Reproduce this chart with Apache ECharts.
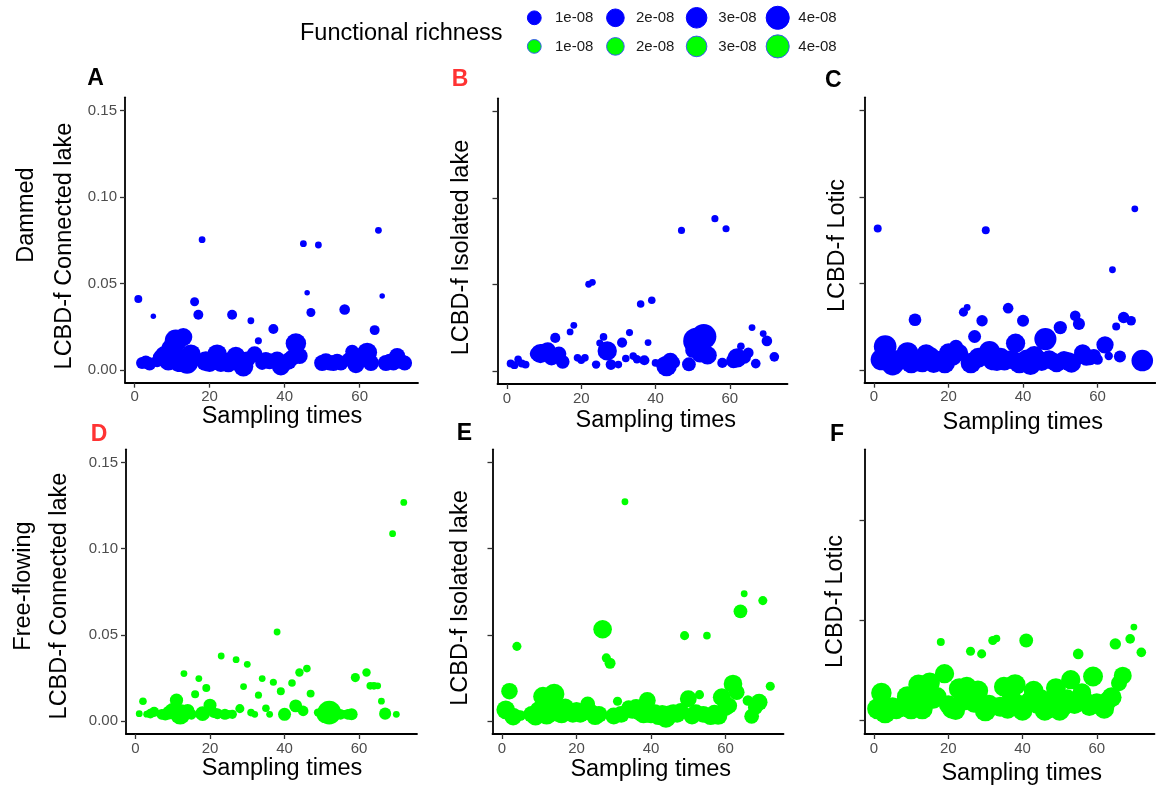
<!DOCTYPE html>
<html>
<head>
<meta charset="utf-8">
<script src="https://cdn.jsdelivr.net/npm/echarts@6/dist/echarts.min.js"></script>
<style>
  html, body { margin: 0; padding: 0; background: #ffffff; }
  #chart { width: 1156px; height: 791px; }
</style>
</head>
<body>
<div id="chart"></div>
<script>
// ---- tick labels ----
const xTicks = [0, 20, 40, 60];
const yTicks = [0, 0.05, 0.10, 0.15];
const yTicksLotic = [0, 0.05, 0.10];

// ---- legend: functional richness (units of 1e-08) ----
const legendValues = [1, 2, 3, 4];
const legendLabels = ['1e-08', '2e-08', '3e-08', '4e-08'];

// ---- data rows: [sampling time, LCBD-f, functional richness (x1e-08)] ----
const dammedConnected = [
  [1,0.041,0.07],[2,0.004,0.5],[3,0.0045,0.7],[4,0.0035,0.7],[5,0.031,0.0],[6,0.005,0.5],
  [7,0.007,1.3],[8,0.008,2.4],[9,0.005,2.0],[10,0.012,3.0],[11,0.017,3.2],[12,0.005,3.0],
  [13,0.019,1.8],[14,0.004,3.0],[15,0.009,2.4],[16,0.0394,0.14],[17,0.0319,0.23],[18,0.0753,0.02],
  [19,0.005,2.4],[20,0.004,1.8],[21,0.006,1.5],[22,0.009,2.4],[23,0.004,1.8],[24,0.005,1.5],
  [25,0.004,2.0],[26,0.0319,0.23],[27,0.008,2.0],[28,0.005,1.8],[29,0.002,2.4],[30,0.006,1.3],
  [31,0.0284,0.02],[32,0.009,1.3],[33,0.0168,0.03],[34,0.004,0.8],[35,0.006,1.0],[36,0.005,1.3],
  [37,0.0237,0.23],[38,0.006,1.3],[39,0.002,1.8],[40,0.004,1.3],[41,0.005,1.5],[42,0.007,1.3],
  [43,0.0153,2.6],[44,0.008,1.3],[45,0.073,0.02],[46,0.0446,0.0],[47,0.0332,0.14],[49,0.0722,0.02],
  [50,0.004,1.3],[51,0.005,1.3],[52,0.004,1.0],[53,0.004,1.3],[54,0.005,1.0],[55,0.004,1.0],
  [56,0.0349,0.3],[57,0.006,0.8],[58,0.0106,0.8],[59,0.003,1.5],[60,0.007,1.5],[61,0.008,1.8],
  [62,0.010,2.4],[63,0.004,1.3],[64,0.023,0.23],[65,0.0807,0.02],[66,0.0427,0.0],[67,0.004,1.3],
  [68,0.005,1.0],[69,0.004,1.0],[70,0.008,1.3],[71,0.005,1.0],[72,0.004,1.0]
];
const dammedIsolated = [
  [1,0.0044,0.07],[2,0.0035,0.07],[3,0.0069,0.05],[4,0.0044,0.07],[5,0.0038,0.07],
  [8,0.010,0.8],[9,0.0102,2.2],[10,0.011,1.6],[11,0.012,1.3],[12,0.008,1.3],[13,0.0192,0.25],
  [14,0.010,1.0],[15,0.0054,0.8],[17,0.0227,0.02],[18,0.0265,0.02],[19,0.0077,0.05],[20,0.0063,0.05],
  [21,0.0077,0.05],[22,0.0502,0.02],[23,0.0513,0.02],[24,0.0038,0.1],[25,0.0163,0.03],[26,0.0198,0.05],
  [27,0.0117,2.2],[28,0.0038,0.3],[30,0.0038,0.05],[31,0.0165,0.25],[32,0.0073,0.05],[33,0.0223,0.03],
  [34,0.0087,0.05],[35,0.0069,0.1],[36,0.0388,0.05],[37,0.0063,0.25],[38,0.0165,0.02],[39,0.041,0.05],
  [40,0.0048,0.05],[42,0.004,0.8],[43,0.003,2.6],[44,0.006,1.3],[45,0.005,0.5],[47,0.0813,0.03],
  [49,0.004,0.8],[50,0.012,1.0],[51,0.0175,5.0],[52,0.010,1.6],[53,0.020,4.5],[54,0.0092,2.0],
  [56,0.0881,0.03],[58,0.0048,0.25],[59,0.0823,0.03],[61,0.006,1.0],[62,0.0077,2.2],[63,0.0144,0.05],
  [64,0.008,0.6],[65,0.0106,0.3],[66,0.0252,0.02],[67,0.0044,0.2],[69,0.0217,0.02],[70,0.0175,0.3],
  [72,0.0083,0.2]
];
const dammedLotic = [
  [1,0.0817,0.07],[2,0.006,3.0],[3,0.0135,3.4],[4,0.005,2.6],[5,0.003,3.0],[6,0.006,2.0],[7,0.005,1.6],
  [8,0.007,2.2],[9,0.0098,3.0],[10,0.004,2.6],[11,0.029,0.6],[12,0.005,2.6],[13,0.004,2.0],[14,0.0093,2.2],
  [15,0.007,3.0],[16,0.004,2.4],[17,0.005,2.0],[18,0.006,1.8],[19,0.004,2.6],[20,0.0098,2.2],[21,0.008,2.4],
  [22,0.0134,0.85],[23,0.010,1.5],[24,0.0334,0.15],[25,0.0361,0.02],[26,0.004,2.6],[27,0.0193,0.65],
  [28,0.007,2.4],[29,0.0284,0.4],[30,0.0807,0.07],[31,0.0104,3.0],[32,0.006,3.0],[33,0.005,2.2],
  [34,0.007,2.4],[35,0.005,2.0],[36,0.0357,0.3],[37,0.006,2.2],[38,0.0154,2.2],[39,0.004,2.6],
  [40,0.0284,0.5],[41,0.006,2.4],[42,0.003,2.6],[43,0.008,2.4],[44,0.006,2.0],[45,0.005,2.2],
  [46,0.0178,3.2],[47,0.006,2.0],[48,0.005,1.6],[49,0.004,2.0],[50,0.0245,0.7],[51,0.006,1.6],
  [52,0.005,2.0],[53,0.004,2.2],[54,0.0313,0.3],[55,0.0266,0.5],[56,0.0098,1.6],[57,0.007,1.3],
  [58,0.007,1.0],[59,0.008,0.9],[60,0.006,0.3],[62,0.0145,1.6],[63,0.008,0.1],[64,0.0579,0.02],
  [65,0.0251,0.07],[66,0.0077,0.5],[67,0.0303,0.4],[69,0.0284,0.2],[70,0.0931,0.02],[72,0.0054,3.0]
];
const freeConnected = [
  [1,0.0044,0.02],[2,0.0116,0.05],[3,0.0041,0.02],[4,0.0044,0.2],[5,0.0054,0.25],[7,0.004,0.3],
  [8,0.0039,0.5],[9,0.005,0.8],[10,0.006,1.2],[11,0.0122,0.7],[12,0.004,2.6],[13,0.0276,0.02],
  [14,0.006,0.8],[15,0.004,0.3],[16,0.0156,0.07],[17,0.0247,0.02],[18,0.0044,1.0],[19,0.0193,0.07],
  [20,0.0093,0.65],[21,0.005,0.3],[22,0.0044,0.35],[23,0.0378,0.02],[24,0.004,0.35],[25,0.004,0.1],
  [26,0.004,0.15],[27,0.0357,0.02],[28,0.0073,0.15],[29,0.0201,0.02],[30,0.033,0.02],[31,0.005,0.05],
  [32,0.004,0.02],[33,0.0151,0.03],[34,0.0247,0.02],[35,0.0075,0.05],[36,0.004,0.02],[37,0.0226,0.03],
  [38,0.0517,0.02],[39,0.0174,0.07],[40,0.004,0.65],[42,0.0222,0.05],[43,0.0089,0.65],[44,0.0282,0.1],
  [45,0.006,0.3],[46,0.0305,0.05],[47,0.016,0.07],[49,0.005,0.1],[50,0.005,0.3],[51,0.004,1.8],
  [52,0.005,3.8],[53,0.004,1.0],[54,0.0044,0.35],[55,0.004,0.3],[56,0.004,0.1],[57,0.004,0.3],
  [58,0.004,0.5],[59,0.0253,0.15],[62,0.0282,0.1],[63,0.0205,0.05],[64,0.0205,0.05],[65,0.0205,0.02],
  [66,0.0116,0.02],[67,0.0044,0.5],[69,0.1087,0.02],[70,0.004,0.02],[72,0.1268,0.02]
];
const freeIsolated = [
  [1,0.0066,2.0],[2,0.0174,1.4],[3,0.0027,1.7],[4,0.0434,0.15],[5,0.0033,0.3],[8,0.004,1.5],
  [9,0.003,2.0],[10,0.006,2.3],[11,0.0143,2.3],[12,0.004,2.6],[13,0.008,2.0],[14,0.0158,2.6],
  [15,0.005,2.0],[16,0.004,1.8],[17,0.008,1.7],[18,0.005,1.5],[19,0.004,1.5],[20,0.006,1.8],
  [21,0.004,1.5],[22,0.005,1.2],[23,0.010,1.0],[24,0.005,1.5],[25,0.003,1.8],[26,0.004,1.5],
  [27,0.0533,2.0],[28,0.0367,0.15],[29,0.0336,0.35],[30,0.003,1.5],[31,0.0116,0.15],[32,0.004,1.5],
  [33,0.1272,0.02],[34,0.008,0.9],[35,0.006,1.2],[36,0.008,1.5],[37,0.005,1.5],[38,0.004,1.8],
  [39,0.012,1.5],[40,0.004,1.8],[41,0.005,1.5],[42,0.003,1.8],[43,0.004,2.0],[44,0.002,2.4],
  [45,0.004,1.8],[46,0.005,1.5],[47,0.004,1.5],[48,0.006,1.2],[49,0.0496,0.15],[50,0.013,1.5],
  [51,0.003,1.5],[52,0.005,1.5],[53,0.0154,0.15],[54,0.004,1.5],[55,0.0496,0.05],[56,0.003,1.8],
  [57,0.005,1.2],[58,0.0033,2.0],[59,0.0139,1.8],[60,0.008,1.5],[61,0.009,1.2],[62,0.0216,2.0],
  [63,0.0168,1.2],[64,0.0637,0.8],[65,0.0739,0.02],[66,0.012,0.3],[67,0.0029,1.0],[68,0.008,1.0],
  [69,0.011,1.5],[70,0.0699,0.15],[72,0.0203,0.15]
];
const freeLotic = [
  [1,0.006,2.8],[2,0.0138,2.6],[3,0.004,2.8],[4,0.006,2.2],[5,0.007,2.0],[6,0.005,1.6],[7,0.006,1.6],
  [8,0.008,2.0],[9,0.012,2.8],[10,0.006,2.8],[11,0.009,2.4],[12,0.018,2.6],[13,0.006,2.8],[14,0.010,2.4],
  [15,0.019,2.6],[16,0.011,2.4],[17,0.012,2.2],[18,0.0394,0.07],[19,0.0235,2.2],[20,0.008,2.0],
  [21,0.006,2.4],[22,0.005,2.0],[23,0.016,2.8],[24,0.010,2.4],[25,0.017,2.4],[26,0.0347,0.15],
  [27,0.009,2.4],[28,0.015,2.6],[29,0.0334,0.15],[30,0.005,2.8],[31,0.008,2.4],[32,0.0401,0.15],
  [33,0.0411,0.05],[34,0.007,2.4],[35,0.017,2.4],[36,0.006,2.4],[37,0.012,2.0],[38,0.018,2.8],
  [39,0.008,2.4],[40,0.005,2.4],[41,0.0401,0.8],[42,0.010,2.0],[43,0.015,2.4],[44,0.008,2.0],
  [45,0.011,2.0],[46,0.005,2.4],[47,0.006,2.2],[48,0.009,2.0],[49,0.0163,2.4],[50,0.005,2.4],
  [51,0.007,2.0],[52,0.011,2.0],[53,0.0205,2.2],[54,0.008,2.0],[55,0.0334,0.3],[56,0.014,2.0],
  [57,0.010,1.6],[58,0.007,2.0],[59,0.0221,2.4],[60,0.009,2.0],[61,0.008,1.6],[62,0.006,2.4],
  [63,0.010,2.0],[64,0.0117,2.4],[65,0.0384,0.4],[66,0.0188,1.3],[67,0.0225,1.8],[69,0.0409,0.2],
  [70,0.0468,0.02],[72,0.0342,0.2]
];

const BLUE = '#0000ff';
const GREEN = '#00ff00';
const FONT = '"Liberation Sans", Arial, Helvetica, sans-serif';

// point diameter grows with the square root of functional richness
function richnessToDiameter(v) {
  return 5.5 + 9.3 * Math.sqrt(Math.max(v, 0));
}

// panel layout: grid box, y range, tick values, whether y labels are drawn
const panels = [
  { data: dammedConnected, color: BLUE,  grid: { left: 125,   top: 97.3, width: 293, height: 285.4 }, yMin: -0.0074,  yMax: 0.1576, yt: yTicks,      yLabels: true },
  { data: dammedIsolated,  color: BLUE,  grid: { left: 497.5, top: 98.3, width: 290, height: 285.7 }, yMin: -0.0074,  yMax: 0.1576, yt: yTicks,      yLabels: false },
  { data: dammedLotic,     color: BLUE,  grid: { left: 864.5, top: 97.3, width: 291, height: 285.4 }, yMin: -0.0074,  yMax: 0.1576, yt: yTicks,      yLabels: false },
  { data: freeConnected,   color: GREEN, grid: { left: 126,   top: 449.3, width: 291, height: 284.7 }, yMin: -0.0074, yMax: 0.1576, yt: yTicks,      yLabels: true },
  { data: freeIsolated,    color: GREEN, grid: { left: 492.5, top: 449.3, width: 291, height: 284.7 }, yMin: -0.0074, yMax: 0.1576, yt: yTicks,      yLabels: false },
  { data: freeLotic,       color: GREEN, grid: { left: 864.5, top: 449.3, width: 290, height: 284.7 }, yMin: -0.00665, yMax: 0.1357, yt: yTicksLotic, yLabels: false }
];

const axisLineStyle = { color: '#000000', width: 1.8 };
const tickStyle = { color: '#333333', width: 1.3 };

const grids = [], xAxes = [], yAxes = [], series = [];
panels.forEach((p, i) => {
  grids.push(Object.assign({ containLabel: false }, p.grid));
  xAxes.push({
    type: 'value', gridIndex: i, min: -2.55, max: 75.55,
    axisLine: { show: true, onZero: false, lineStyle: axisLineStyle },
    axisTick: { show: true, length: 5, lineStyle: tickStyle, customValues: xTicks },
    axisLabel: { show: true, customValues: xTicks, color: '#4d4d4d', fontSize: 15, fontFamily: FONT, margin: 7 },
    splitLine: { show: false }
  });
  yAxes.push({
    type: 'value', gridIndex: i, min: p.yMin, max: p.yMax,
    axisLine: { show: true, onZero: false, lineStyle: axisLineStyle },
    axisTick: { show: true, length: 5, lineStyle: tickStyle, customValues: p.yt },
    axisLabel: {
      show: p.yLabels, customValues: p.yt, color: '#4d4d4d', fontSize: 15, fontFamily: FONT, margin: 8,
      formatter: v => Number(v).toFixed(2)
    },
    splitLine: { show: false }
  });
  series.push({
    type: 'scatter', xAxisIndex: i, yAxisIndex: i,
    data: p.data, clip: false,
    symbol: 'circle',
    symbolSize: v => richnessToDiameter(v[2]),
    itemStyle: { color: p.color, opacity: 1 },
    emphasis: { disabled: true },
    silent: true
  });
});

// ---- text and legend drawn on top ----
function txt(x, y, text, size, opts) {
  opts = opts || {};
  return {
    type: 'text', x: x, y: y, rotation: opts.rotation || 0, silent: true,
    style: {
      text: text, fill: opts.fill || '#000000',
      fontSize: size, fontFamily: FONT, fontWeight: opts.weight || 'normal',
      align: opts.align || 'center', verticalAlign: 'middle',
      textAlign: opts.align || 'center', textVerticalAlign: 'middle'
    }
  };
}
const ROT = Math.PI / 2;
const graphics = [
  // panel tags
  txt(87.3, 78.5, 'A', 23, { align: 'left', weight: 'bold' }),
  txt(451.7, 80, 'B', 23, { align: 'left', weight: 'bold', fill: '#ff3333' }),
  txt(825, 81, 'C', 23, { align: 'left', weight: 'bold' }),
  txt(90.7, 434.5, 'D', 23, { align: 'left', weight: 'bold', fill: '#ff3333' }),
  txt(456.7, 434, 'E', 23, { align: 'left', weight: 'bold' }),
  txt(830, 434.5, 'F', 23, { align: 'left', weight: 'bold' }),
  // x axis titles
  txt(282, 417, 'Sampling times', 23.5),
  txt(655.8, 420.7, 'Sampling times', 23.5),
  txt(1022.8, 422.7, 'Sampling times', 23.5),
  txt(282, 768.3, 'Sampling times', 23.5),
  txt(650.7, 770, 'Sampling times', 23.5),
  txt(1021.7, 773.7, 'Sampling times', 23.5),
  // y axis titles
  txt(27, 215, 'Dammed', 23.5, { rotation: ROT }),
  txt(65, 246, 'LCBD-f Connected lake', 23.5, { rotation: ROT }),
  txt(462, 247.5, 'LCBD-f Isolated lake', 23.5, { rotation: ROT }),
  txt(837.5, 245.5, 'LCBD-f Lotic', 23.5, { rotation: ROT }),
  txt(23.5, 586, 'Free-flowing', 23.5, { rotation: ROT }),
  txt(59.5, 596, 'LCBD-f Connected lake', 23.5, { rotation: ROT }),
  txt(461, 598, 'LCBD-f Isolated lake', 23.5, { rotation: ROT }),
  txt(836, 601.5, 'LCBD-f Lotic', 23.5, { rotation: ROT }),
  // legend title
  txt(300, 34, 'Functional richness', 23.5, { align: 'left' })
];
const legendX = [534.3, 615.4, 696.6, 777.7];
const legendLabelX = [555, 636, 718.3, 798.3];
const legendRows = [
  { y: 17.8, fill: BLUE, stroke: BLUE },
  { y: 46.4, fill: GREEN, stroke: '#3a5bef' }
];
legendRows.forEach(row => {
  legendValues.forEach((v, k) => {
    graphics.push({
      type: 'circle', silent: true,
      shape: { cx: legendX[k], cy: row.y, r: richnessToDiameter(v) / 2 - 0.5 },
      style: { fill: row.fill, stroke: row.stroke, lineWidth: 1 }
    });
    graphics.push(txt(legendLabelX[k], row.y, legendLabels[k], 15, { align: 'left', fill: '#1a1a1a' }));
  });
});

const chart = echarts.init(document.getElementById('chart'), null, { renderer: 'canvas' });
chart.setOption({
  backgroundColor: '#ffffff',
  animation: false,
  grid: grids,
  xAxis: xAxes,
  yAxis: yAxes,
  series: series,
  graphic: graphics
});
</script>
</body>
</html>
